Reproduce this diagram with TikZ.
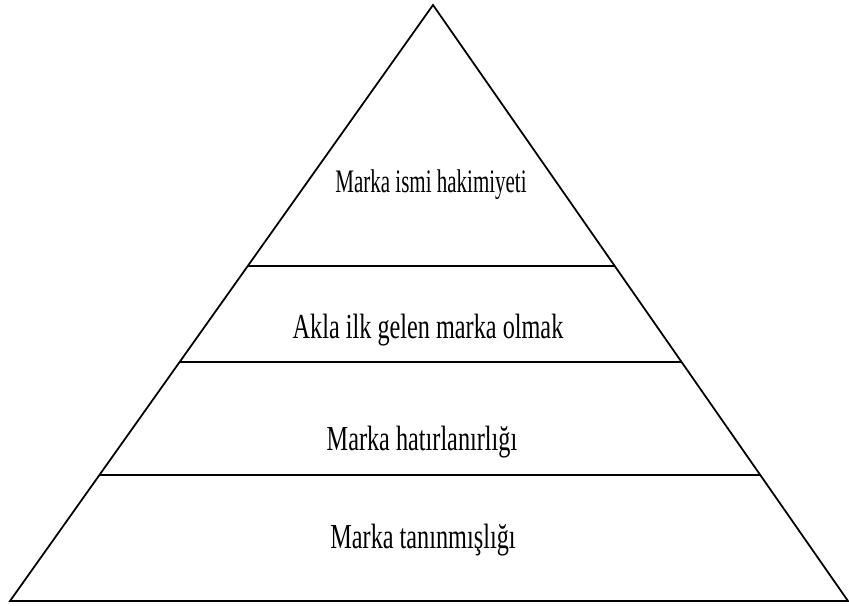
\documentclass[tikz,border=0pt]{standalone}
\usepackage{fontspec}
\setmainfont{Liberation Serif}
\newfontfamily\pyrfont[FakeStretch=0.69]{Liberation Serif}
\newfontfamily\pyrfonttop[FakeStretch=0.64]{Liberation Serif}
\usetikzlibrary{calc}

\begin{document}
\begin{tikzpicture}[x=0.03cm,y=0.03cm,line width=1.5pt,line join=miter]
\tikzstyle{level}=[font=\pyrfont\fontsize{30}{34}\selectfont,text=black,inner sep=0pt,anchor=base]
\tikzstyle{toplevel}=[level,font=\pyrfonttop\fontsize{28}{32}\selectfont]
\useasboundingbox (0,0) rectangle (849,605);
% corners of the pyramid
\coordinate (top) at (433,600);
\coordinate (bl) at (10,4);
\coordinate (br) at (848,4);
\draw (bl) -- (top) -- (br) -- cycle;
% dividing lines
\coordinate (l1) at ($(top)!0.438!(bl)$);
\coordinate (r1) at ($(top)!0.438!(br)$);
\coordinate (l2) at ($(top)!0.599!(bl)$);
\coordinate (r2) at ($(top)!0.599!(br)$);
\coordinate (l3) at ($(top)!0.789!(bl)$);
\coordinate (r3) at ($(top)!0.789!(br)$);
\draw (l1) -- (r1);
\draw (l2) -- (r2);
\draw (l3) -- (r3);
% labels
\node[toplevel] (dom) at (431,412) {Marka ismi hakimiyeti};
\node[level] (tom) at (428,267) {Akla ilk gelen marka olmak};
\node[level] (rec) at (422,155) {Marka hatırlanırlığı};
\node[level] (awr) at (423,57) {Marka tanınmışlığı};
\end{tikzpicture}
\end{document}
